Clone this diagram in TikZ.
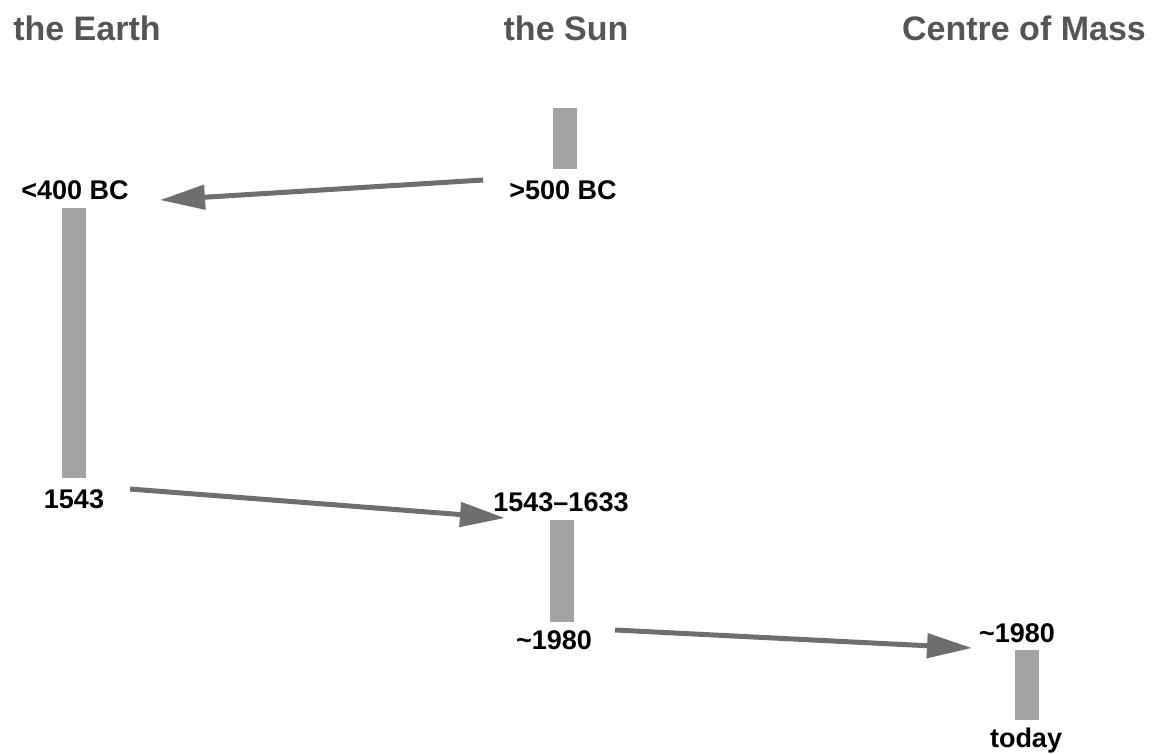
\documentclass[tikz,border=0pt]{standalone}
\usepackage{fontspec}
\setmainfont{Liberation Sans}
\usetikzlibrary{arrows.meta}
\definecolor{headgray}{HTML}{555555}
\definecolor{bargray}{HTML}{A3A3A3}
\definecolor{arrgray}{HTML}{6E6E6E}
\tikzset{
  heading/.style={anchor=base, inner sep=0pt, text=headgray, font=\fontsize{34}{38}\selectfont\bfseries},
  datelabel/.style={anchor=base, inner sep=0pt, text=black, font=\fontsize{27}{30}\selectfont\bfseries},
  bar/.style={fill=bargray, draw=none},
  shiftarrow/.style={draw=arrgray, line width=5pt, -{Triangle[length=45pt,width=24pt]}}
}
\begin{document}
\begin{tikzpicture}[x=1pt,y=-1pt]
\useasboundingbox (0,0) rectangle (1155,753);
% headings
\node[heading] (hE) at (87,40) {the Earth};
\node[heading] (hS) at (566,40) {the Sun};
\node[heading] (hC) at (1024,40) {Centre of Mass};
% bars
\fill[bar] (553,108) rectangle (577,169);
\fill[bar] (62,208) rectangle (86,478);
\fill[bar] (550,520) rectangle (574,622);
\fill[bar] (1015,650) rectangle (1039,720);
% labels
\node[datelabel] (e1) at (75,199) {<400 BC};
\node[datelabel] (s1) at (563,199) {>500 BC};
\node[datelabel] (e2) at (74,508) {1543};
\node[datelabel] (s2) at (561,511) {1543--1633};
\node[datelabel] (s3) at (554,649) {\char`\~1980};
\node[datelabel] (c1) at (1017,642) {\char`\~1980};
\node[datelabel] (c2) at (1026,747) {today};
% arrow end points
\coordinate (a1s) at (483,180);
\coordinate (a1e) at (160,200);
\coordinate (a2s) at (130,489);
\coordinate (a2e) at (505,518);
\coordinate (a3s) at (615,630);
\coordinate (a3e) at (972,648);
\draw[shiftarrow] (a1s) -- (a1e);
\draw[shiftarrow] (a2s) -- (a2e);
\draw[shiftarrow] (a3s) -- (a3e);
\end{tikzpicture}
\end{document}
